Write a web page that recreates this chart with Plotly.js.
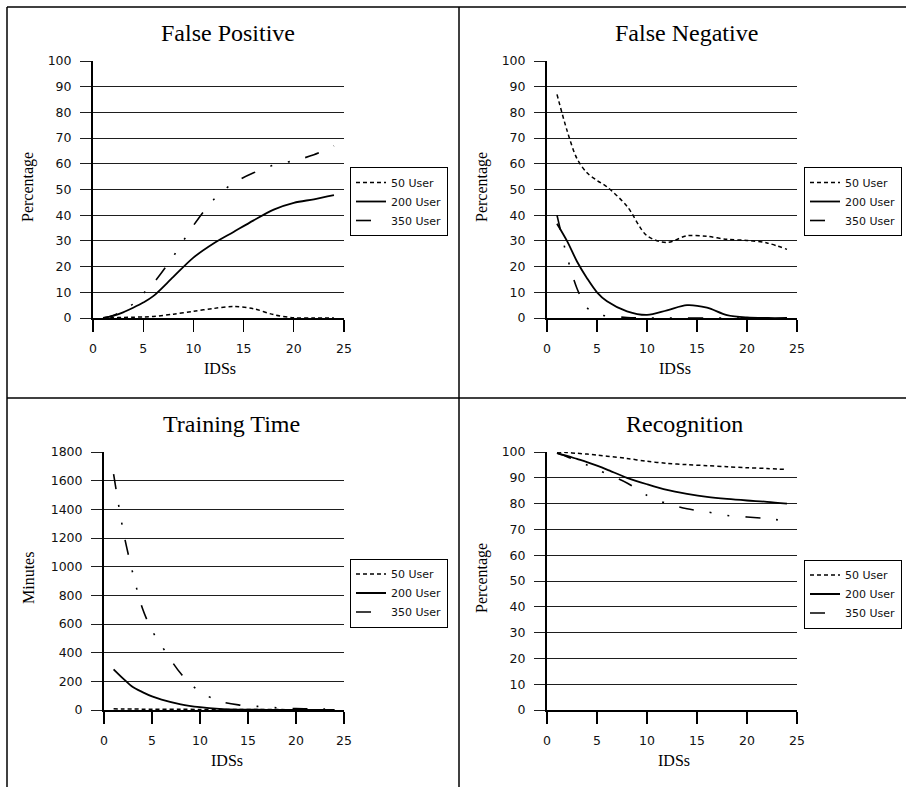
<!DOCTYPE html>
<html>
<head>
<meta charset="utf-8">
<script src="https://cdn.plot.ly/plotly-3.0.1.min.js"></script>
<style>
  html, body { margin: 0; padding: 0; background: #fff; }
  #chart { width: 906px; height: 787px; }
</style>
</head>
<body>
<div id="chart"></div>
<script>
// ---------------- data ----------------
const ids = [1, 2, 3, 4, 5, 6, 8, 10, 12, 14, 16, 18, 20, 22, 24];
const seriesNames = ['50 User', '200 User', '350 User'];
const panelTitles = ['False Positive', 'False Negative', 'Training Time', 'Recognition'];
const yTitles = ['Percentage', 'Percentage', 'Minutes', 'Percentage'];
const xTitle = 'IDSs';

// False Positive (%)
const fp50  = [0, 0.1, 0.2, 0.3, 0.4, 0.6, 1.5, 2.6, 3.7, 4.5, 3.6, 1.3, 0.1, 0, 0];
const fp200 = [0, 0.8, 2.2, 4, 6, 8.5, 16, 23.5, 29, 33.5, 38, 42.2, 44.8, 46.2, 47.8];
const fp350 = [0, 1, 2.8, 5.5, 9.5, 13.5, 24, 36, 46, 52.5, 56.5, 59.5, 61.2, 63.5, 67];

// False Negative (%)
const fn50  = [87, 73, 62, 56.5, 53.5, 51, 43.5, 32, 29.4, 32, 31.8, 30.6, 30.2, 29.2, 26.7];
const fn200 = [36.7, 30, 22, 15.5, 10, 6.5, 2.6, 1.2, 3.0, 5.0, 4.0, 1.1, 0.2, 0, 0];
const fn350 = [40, 24, 11.5, 4, 1.5, 0.8, 0.2, 0, 0, 0, 0, 0, 0, 0, 0];

// Training Time (minutes)
const tt50  = [8, 7, 7, 6, 6, 5, 5, 4, 4, 3, 3, 3, 2, 2, 2];
const tt200 = [284, 219, 160, 125, 95, 73, 40, 20, 8, 3, 2, 1, 1, 1, 1];
const tt350 = [1646, 1250, 954, 710, 555, 448, 254, 128, 63, 36, 25, 16, 10, 8, 5];

// Recognition (%)
const rc50  = [100, 99.8, 99.5, 99.2, 98.8, 98.4, 97.5, 96.4, 95.6, 95.1, 94.7, 94.3, 93.9, 93.6, 93.2];
const rc200 = [99.6, 98.5, 97.3, 96.1, 94.7, 93.2, 90, 87.5, 85.3, 83.8, 82.6, 81.8, 81.2, 80.7, 80];
const rc350 = [99.6, 98.2, 96.5, 95, 93.2, 91.5, 88, 83.2, 80, 78, 76.8, 75.4, 74.8, 74.2, 73.2];

const yTickVals = [[0, 100, 10], [0, 100, 10], [0, 1800, 200], [0, 100, 10]];
const xTick = [0, 25, 5];

// ---------------- layout helpers ----------------
const W = 906, H = 787;
const px = v => v / W;
const py = v => 1 - v / H;

// plot-area pixel boxes [x0, x1, yTop, yBottom]
const boxes = [
  [93, 344, 61, 318],
  [547, 797, 61, 318],
  [104, 344, 452, 710],
  [547, 797, 452, 710]
];
const titlePos  = [[228, 33], [686, 33], [232, 424], [684, 424]];
const yTitlePos = [[28, 187], [482, 187], [28, 578], [482, 578]];
const xTitlePos = [[220, 368], [675, 368], [227, 760], [674, 760]];
const legendPos = [[350, 201.5], [804, 201.5], [350, 593], [804, 594]];

const panelData = [[fp50, fp200, fp350], [fn50, fn200, fn350], [tt50, tt200, tt350], [rc50, rc200, rc350]];
const dashes = ['4px,3px', 'solid', '15px,16px,2px,16px,2px,16px'];
const widths = [1.5, 1.8, 1.6];

const traces = [];
const layout = {
  width: W, height: H,
  margin: {l: 0, r: 0, t: 0, b: 0},
  paper_bgcolor: '#fff', plot_bgcolor: 'rgba(0,0,0,0)',
  showlegend: true,
  annotations: [],
  shapes: []
};

const tickFont = {family: 'DejaVu Sans', size: 12.5, color: '#111'};
const serif = 'Liberation Serif, Times New Roman, serif';

panelData.forEach((series, p) => {
  const n = p === 0 ? '' : String(p + 1);
  const legName = 'legend' + n;
  series.forEach((vals, s) => {
    traces.push({
      x: ids, y: vals,
      name: seriesNames[s],
      type: 'scatter', mode: 'lines',
      line: {color: '#000', width: widths[s], dash: dashes[s], shape: 'spline', smoothing: 0.9},
      xaxis: 'x' + n, yaxis: 'y' + n,
      legend: legName,
      hoverinfo: 'x+y+name'
    });
  });
  const b = boxes[p];
  layout['xaxis' + n] = {
    domain: [px(b[0]), px(b[1])],
    anchor: 'y' + n,
    range: [xTick[0], xTick[1]],
    tick0: 0, dtick: xTick[2], tickmode: 'linear',
    showgrid: false, zeroline: false,
    showline: true, linecolor: '#000', linewidth: 1.5,
    ticks: 'outside', ticklen: 12, tickcolor: '#000', tickwidth: 1.2,
    ticklabelstandoff: 6,
    tickfont: tickFont, fixedrange: true
  };
  const yt = yTickVals[p];
  layout['yaxis' + n] = {
    domain: [py(b[3]), py(b[2])],
    anchor: 'x' + n,
    range: [yt[0], yt[1]],
    tick0: 0, dtick: yt[2], tickmode: 'linear',
    showgrid: true, gridcolor: '#1e1e1e', gridwidth: 1,
    zeroline: false,
    showline: true, linecolor: '#000', linewidth: 2,
    ticks: 'outside', ticklen: 11, tickcolor: '#1e1e1e', tickwidth: 1,
    ticklabelstandoff: 6,
    tickfont: tickFont, fixedrange: true
  };
  layout[legName] = {
    x: px(legendPos[p][0]), y: py(legendPos[p][1]),
    xanchor: 'left', yanchor: 'middle',
    xref: 'paper', yref: 'paper',
    bgcolor: '#fff', bordercolor: '#000', borderwidth: 1,
    font: {family: 'DejaVu Sans', size: 11, color: '#111'},
    itemwidth: 30, tracegroupgap: 0
  };
  layout.annotations.push({
    text: panelTitles[p], x: px(titlePos[p][0]), y: py(titlePos[p][1]),
    xref: 'paper', yref: 'paper', xanchor: 'center', yanchor: 'middle',
    showarrow: false, font: {family: serif, size: 24, color: '#000'}
  });
  layout.annotations.push({
    text: yTitles[p], x: px(yTitlePos[p][0]), y: py(yTitlePos[p][1]),
    xref: 'paper', yref: 'paper', xanchor: 'center', yanchor: 'middle',
    textangle: -90, showarrow: false, font: {family: serif, size: 16, color: '#000'}
  });
  layout.annotations.push({
    text: xTitle, x: px(xTitlePos[p][0]), y: py(xTitlePos[p][1]),
    xref: 'paper', yref: 'paper', xanchor: 'center', yanchor: 'middle',
    showarrow: false, font: {family: serif, size: 16, color: '#000'}
  });
});

// panel frame lines
const frameLine = {type: 'line', xref: 'paper', yref: 'paper', line: {color: '#000', width: 1.5}, layer: 'above'};
layout.shapes.push(Object.assign({}, frameLine, {x0: px(7), x1: 1, y0: py(7), y1: py(7)}));
layout.shapes.push(Object.assign({}, frameLine, {x0: px(7), x1: 1, y0: py(398), y1: py(398)}));
layout.shapes.push(Object.assign({}, frameLine, {x0: px(7), x1: px(7), y0: py(7), y1: 0}));
layout.shapes.push(Object.assign({}, frameLine, {x0: px(459), x1: px(459), y0: py(7), y1: 0}));

Plotly.newPlot('chart', traces, layout, {displayModeBar: false, staticPlot: true});
</script>
</body>
</html>
